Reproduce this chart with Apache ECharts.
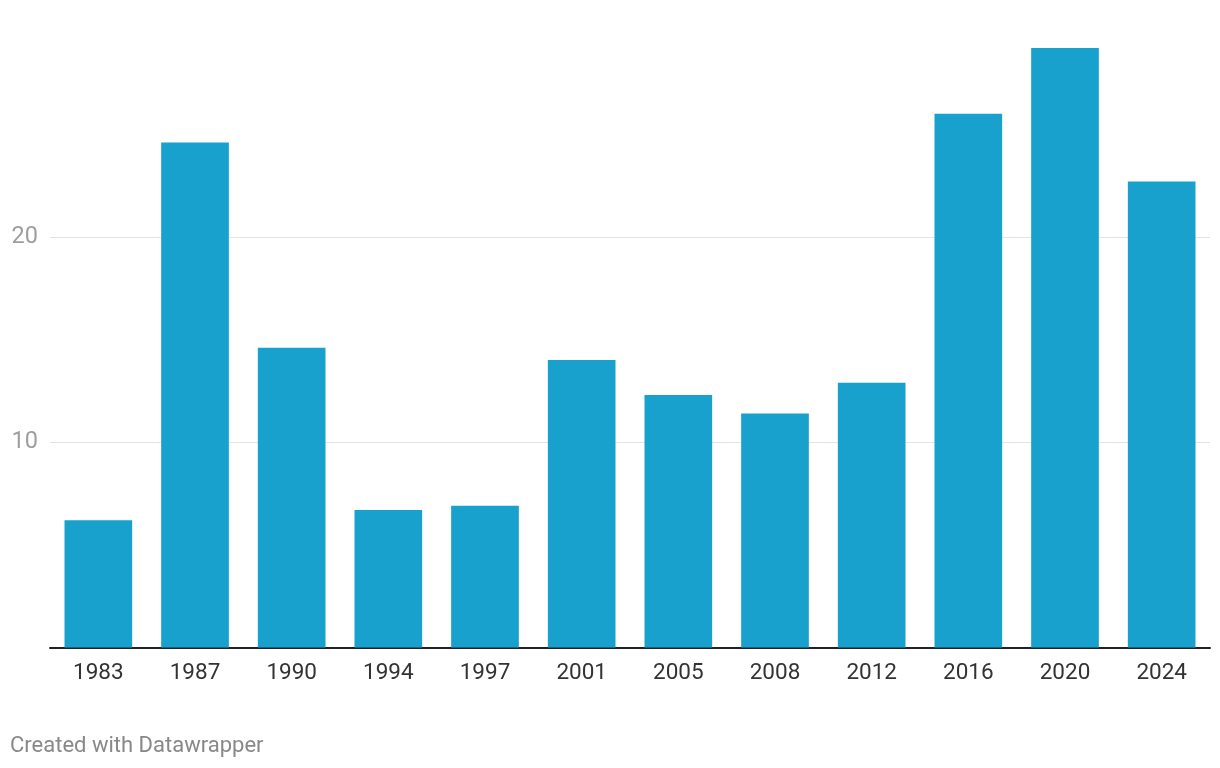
<!DOCTYPE html>
<html>
<head>
<meta charset="utf-8">
<script src="https://cdn.jsdelivr.net/npm/echarts@6/dist/echarts.min.js"></script>
<style>
html,body{margin:0;padding:0;background:#fff;}
#chart{width:1220px;height:768px;}
</style>
</head>
<body>
<div id="chart"></div>
<script>
const categories = ['1983','1987','1990','1994','1997','2001','2005','2008','2012','2016','2020','2024'];
const values = [6.2, 24.6, 14.6, 6.7, 6.9, 14.0, 12.3, 11.4, 12.9, 26.0, 29.2, 22.7];
const yTicks = [10, 20];
const footer = 'Created with Datawrapper';

const chart = echarts.init(document.getElementById('chart'));
chart.setOption({
  animation: false,
  textStyle: { fontFamily: 'Roboto' },
  graphic: [{
    type: 'text', left: 10, top: 735,
    style: { text: footer, font: '22px Roboto', fill: '#888888' }
  }],
  grid: { left: 50, right: 10, top: 31.6, bottom: 120.5, containLabel: false },
  xAxis: {
    type: 'category',
    data: categories,
    axisLine: { lineStyle: { color: '#222222', width: 2 } },
    axisTick: { show: false },
    axisLabel: { color: '#333333', fontSize: 22.5, margin: 14, fontFamily: 'Roboto' }
  },
  yAxis: {
    type: 'value',
    min: 0, max: 30, interval: 10,
    axisLine: { show: false },
    axisTick: { show: false },
    axisLabel: {
      color: '#9e9e9e', fontSize: 23.5, margin: 12, fontFamily: 'Roboto',
      formatter: v => yTicks.includes(v) ? String(v) : ''
    },
    splitLine: { lineStyle: { color: ['rgba(0,0,0,0)', '#e3e3e3', '#e3e3e3', 'rgba(0,0,0,0)'], width: 1 } }
  },
  series: [{
    type: 'bar',
    data: values,
    barCategoryGap: '30%',
    itemStyle: { color: '#18a1cd' }
  }]
});
</script>
</body>
</html>
